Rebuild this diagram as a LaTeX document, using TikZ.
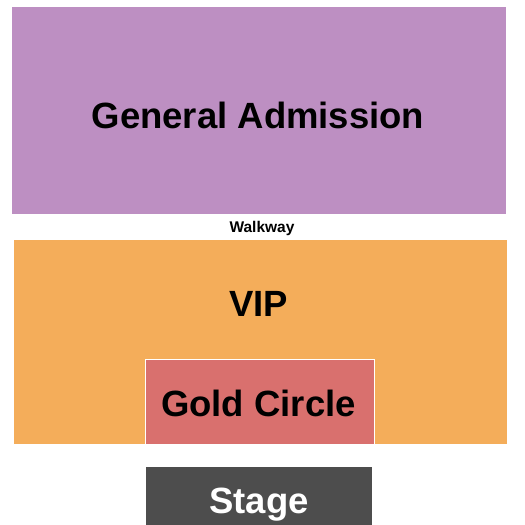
\documentclass[tikz,border=0pt]{standalone}
\usepackage{fontspec}
\setmainfont{Liberation Sans}
\usetikzlibrary{positioning}
\definecolor{gapurple}{HTML}{BD8FC2}
\definecolor{viporange}{HTML}{F4AD5A}
\definecolor{goldred}{HTML}{D9706E}
\definecolor{stagegray}{HTML}{4D4D4D}
\tikzset{
  zone/.style={rectangle, inner sep=0pt, outer sep=0pt},
  zonelabel/.style={inner sep=0pt, anchor=base, font=\bfseries\fontsize{36.5}{36}\selectfont},
  smalllabel/.style={inner sep=0pt, anchor=base, font=\bfseries\fontsize{15.5}{16}\selectfont}
}
\begin{document}
\begin{tikzpicture}[x=1pt,y=-1pt]
  \useasboundingbox (0,0) rectangle (525,525);
  \clip (0,0) rectangle (525,525);
  % seating areas
  \node[zone, fill=gapurple, minimum width=494pt, minimum height=207pt] (ga) at (259,110.5) {};
  \node[zonelabel] (galabel) at (258,128.3) {General Admission};
  \node[smalllabel] (walk) at (262,232.5) {Walkway};
  \node[zone, fill=viporange, minimum width=493pt, minimum height=204pt] (vip) at (260.5,342) {};
  \node[zonelabel] (viplabel) at (258.5,316) {VIP};
  \node[zone, fill=goldred, minimum width=229pt, minimum height=85pt] (gold) at (260,401.5) {};
  \draw[white, line width=0.8pt] (gold.south west) |- (gold.north east) -- (gold.south east);
  \node[zonelabel] (goldlabel) at (258.5,416.7) {Gold Circle};
  \node[zone, fill=stagegray, minimum width=226pt, minimum height=70pt] (stage) at (259,502) {};
  \node[zonelabel, text=white] (stagelabel) at (259,513) {Stage};
\end{tikzpicture}
\end{document}
